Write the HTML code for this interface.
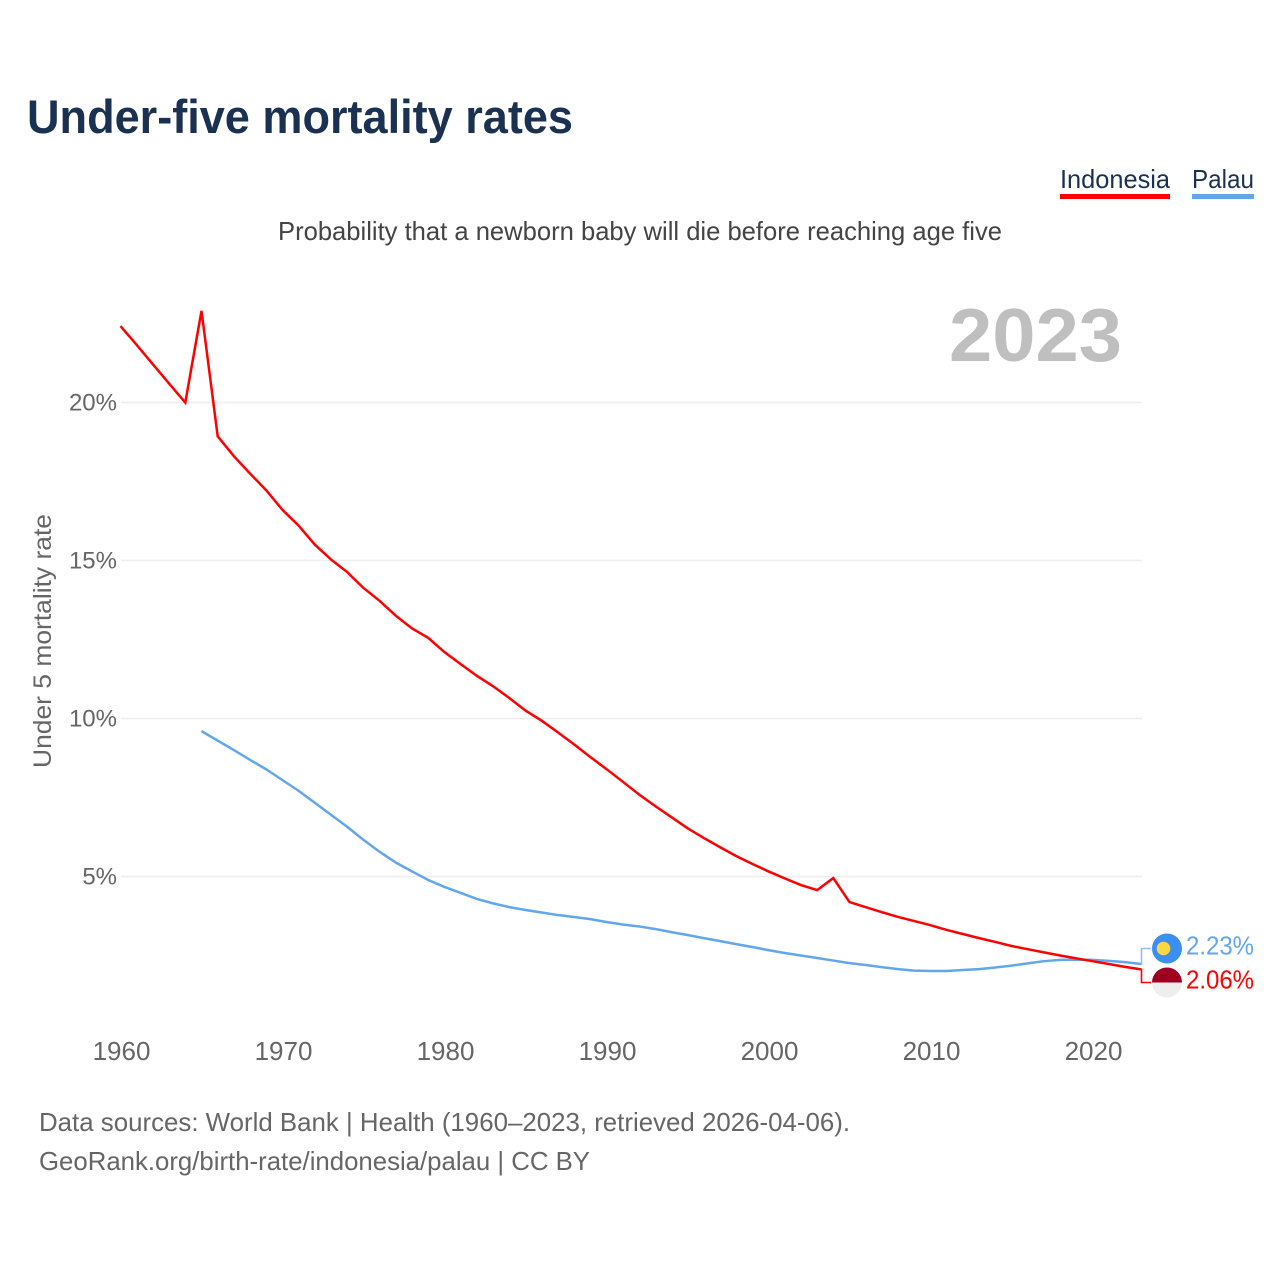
<!DOCTYPE html>
<html lang="en">
<head>
<meta charset="utf-8">
<title>Under-five mortality rates</title>
<style>
  html, body { margin: 0; padding: 0; background: #fff; }
  svg { display: block; }
  text { font-family: "Liberation Sans", "DejaVu Sans", sans-serif; }
</style>
</head>
<body>
<svg id="chart" xmlns="http://www.w3.org/2000/svg" width="1280" height="1280" viewBox="0 0 1280 1280">
  <rect x="0" y="0" width="1280" height="1280" fill="#ffffff"/>
  <text x="27" y="133" font-size="47" font-weight="700" fill="#1a3152" textLength="546" lengthAdjust="spacingAndGlyphs">Under-five mortality rates</text>

  <g>
    <g>
      <text x="1060" y="188" font-size="26" fill="#1a3152" textLength="110" lengthAdjust="spacingAndGlyphs">Indonesia</text>
      <rect x="1060" y="194" width="110" height="5" fill="#ff0000"/>
    </g>
    <g>
      <text x="1192" y="188" font-size="26" fill="#1a3152" textLength="62" lengthAdjust="spacingAndGlyphs">Palau</text>
      <rect x="1192" y="194" width="62" height="5" fill="#62a6ec"/>
    </g>
  </g>

  <text x="278" y="240" font-size="26" fill="#444444" textLength="724" lengthAdjust="spacingAndGlyphs">Probability that a newborn baby will die before reaching age five</text>
  <text x="949" y="361" font-size="75" font-weight="700" fill="#bfbfbf" textLength="173" lengthAdjust="spacingAndGlyphs">2023</text>

  <text transform="translate(51 768) rotate(-90)" x="0" y="0" font-size="25" fill="#666666" textLength="254" lengthAdjust="spacingAndGlyphs">Under 5 mortality rate</text>

  <g id="grid"></g>
  <g id="yticks"></g>
  <g id="xticks"></g>
  <g id="series"></g>

  <g>
    <path id="palau-connector" fill="none" stroke="#8fbff2" stroke-width="1.6"/>
    <path id="indonesia-connector" fill="none" stroke="#ff0000" stroke-width="1.6"/>
    <g>
      <circle cx="1167" cy="948.5" r="15" fill="#3a8ff0"/>
      <circle cx="1163.5" cy="948.5" r="6.8" fill="#ffd740"/>
    </g>
    <g>
      <circle cx="1167" cy="982.5" r="15" fill="#eeeeee"/>
      <path d="M1152 982.5 A15 15 0 0 1 1182 982.5 Z" fill="#9e001f"/>
    </g>
    <text id="palau-value" x="1186" y="954.5" font-size="26" fill="#62a6ec" textLength="68" lengthAdjust="spacingAndGlyphs">2.23%</text>
    <text id="indonesia-value" x="1186" y="988.5" font-size="26" fill="#ff0000" textLength="68" lengthAdjust="spacingAndGlyphs">2.06%</text>
  </g>

  <text x="39" y="1131" font-size="26" fill="#666666" textLength="811" lengthAdjust="spacingAndGlyphs">Data sources: World Bank | Health (1960–2023, retrieved 2026-04-06).</text>
  <text x="39" y="1170" font-size="26" fill="#666666" textLength="551" lengthAdjust="spacingAndGlyphs">GeoRank.org/birth-rate/indonesia/palau | CC BY</text>
</svg>

<script>
const xTickYears = [1960, 1970, 1980, 1990, 2000, 2010, 2020];
const yTickValues = [5, 10, 15, 20];
const yTickLabels = ["5%", "10%", "15%", "20%"];

const indonesiaStartYear = 1960;
const indonesiaValues = [
  22.42, 21.82, 21.21, 20.6, 20.0, 22.9, 18.93, 18.3, 17.75, 17.22,
  16.6, 16.1, 15.5, 15.03, 14.63, 14.13, 13.72, 13.25, 12.85, 12.55,
  12.1, 11.72, 11.35, 11.02, 10.65, 10.25, 9.93, 9.56, 9.18, 8.78,
  8.4, 8.0, 7.6, 7.23, 6.88, 6.53, 6.22, 5.93, 5.65, 5.4,
  5.16, 4.94, 4.73, 4.57, 4.95, 4.19, 4.03, 3.87, 3.72, 3.59,
  3.46, 3.31, 3.18, 3.05, 2.93, 2.8, 2.7, 2.6, 2.5, 2.41,
  2.32, 2.23, 2.14, 2.06
];

const palauStartYear = 1965;
const palauValues = [
  9.6, 9.3, 9.0, 8.69, 8.39, 8.05, 7.71, 7.33, 6.95, 6.57,
  6.16, 5.78, 5.44, 5.16, 4.89, 4.67, 4.48, 4.29, 4.15, 4.03,
  3.94, 3.86, 3.78, 3.72, 3.65, 3.56, 3.48, 3.42, 3.34, 3.24,
  3.15, 3.05, 2.96, 2.86, 2.77, 2.67, 2.58, 2.5, 2.42, 2.34,
  2.26, 2.2, 2.13, 2.07, 2.02, 2.01, 2.01, 2.04, 2.07, 2.12,
  2.18, 2.25, 2.32, 2.36, 2.37, 2.36, 2.33, 2.29, 2.23
];

const SVG_NS = "http://www.w3.org/2000/svg";
const xScale = function (year) { return 120.5 + (year - 1960) * 16.2; };
const yScale = function (value) { return 1034.5 - value * 31.6; };

function linePath(startYear, values) {
  return values.map(function (v, i) {
    return (i ? "L" : "M") + xScale(startYear + i).toFixed(2) + " " + yScale(v).toFixed(2);
  }).join(" ");
}

const gridGroup = document.getElementById("grid");
const yTickGroup = document.getElementById("yticks");
yTickValues.forEach(function (v, i) {
  const line = document.createElementNS(SVG_NS, "line");
  
  
  line.setAttribute("x1", 121);
  line.setAttribute("x2", 1142);
  line.setAttribute("y1", yScale(v));
  line.setAttribute("y2", yScale(v));
  line.setAttribute("stroke", "#eeeeee");
  line.setAttribute("stroke-width", "1.5");
  gridGroup.appendChild(line);

  const label = document.createElementNS(SVG_NS, "text");
  
  
  label.setAttribute("x", 117);
  label.setAttribute("y", yScale(v) + 8);
  label.setAttribute("text-anchor", "end");
  label.setAttribute("font-size", "24");
  label.setAttribute("fill", "#666666");
  label.textContent = yTickLabels[i];
  yTickGroup.appendChild(label);
});

const xTickGroup = document.getElementById("xticks");
xTickYears.forEach(function (year) {
  const label = document.createElementNS(SVG_NS, "text");
  
  
  label.setAttribute("x", xScale(year) + 1);
  label.setAttribute("y", 1060);
  label.setAttribute("text-anchor", "middle");
  label.setAttribute("font-size", "26");
  label.setAttribute("fill", "#666666");
  label.textContent = String(year);
  xTickGroup.appendChild(label);
});

const seriesGroup = document.getElementById("series");

const palauLine = document.createElementNS(SVG_NS, "path");


palauLine.setAttribute("d", linePath(palauStartYear, palauValues));
palauLine.setAttribute("fill", "none");
palauLine.setAttribute("stroke", "#62a6ec");
palauLine.setAttribute("stroke-width", "2.5");
palauLine.setAttribute("stroke-linejoin", "round");
seriesGroup.appendChild(palauLine);

const indonesiaLine = document.createElementNS(SVG_NS, "path");


indonesiaLine.setAttribute("d", linePath(indonesiaStartYear, indonesiaValues));
indonesiaLine.setAttribute("fill", "none");
indonesiaLine.setAttribute("stroke", "#ff0000");
indonesiaLine.setAttribute("stroke-width", "2.5");
indonesiaLine.setAttribute("stroke-linejoin", "miter");
seriesGroup.appendChild(indonesiaLine);

const endYear = 2023;
const palauEnd = palauValues[palauValues.length - 1];
const indonesiaEnd = indonesiaValues[indonesiaValues.length - 1];
document.getElementById("palau-connector").setAttribute("d",
  "M" + xScale(endYear) + " " + yScale(palauEnd) + " H1141.5 V948.5 H1151");
document.getElementById("indonesia-connector").setAttribute("d",
  "M" + xScale(endYear) + " " + yScale(indonesiaEnd) + " H1141.5 V982.5 H1151");
document.getElementById("palau-value").textContent = palauEnd.toFixed(2) + "%";
document.getElementById("indonesia-value").textContent = indonesiaEnd.toFixed(2) + "%";
</script>
</body>
</html>
